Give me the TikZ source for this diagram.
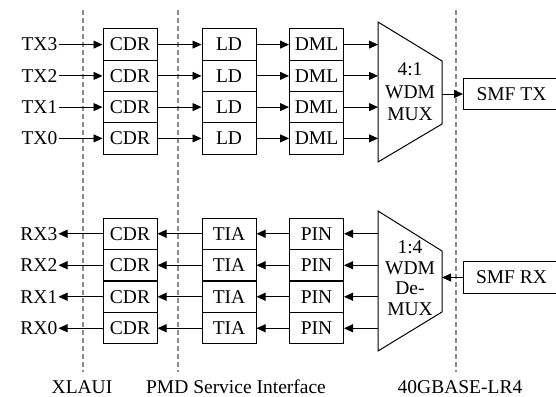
\documentclass[tikz,border=0pt]{standalone}
\usepackage{fontspec}
\setmainfont{Liberation Serif}
\usepackage{tikz}
\usetikzlibrary{arrows.meta}
\definecolor{dash_gray}{HTML}{8C8C8C}

\begin{document}
\begin{tikzpicture}[x=1pt,y=-1pt,
        blk/.style={draw, line width=1pt, minimum width=54pt, minimum height=31.25pt, inner sep=0pt, font=\fontsize{19.5}{22}\selectfont},
        lbl/.style={inner sep=1pt, font=\fontsize{19.5}{22}\selectfont},
        sig/.style={line width=0.9pt, -{Triangle[length=9pt,width=8pt]}},
        bound/.style={dash_gray, line width=1.5pt, dash pattern=on 5pt off 3pt}]
        \useasboundingbox (0,0) rectangle (556,396);
        % Interfaces
        \draw[bound] (83,10) -- (83,372);
        \draw[bound] (178,10) -- (178,372);
        \draw[bound] (456,10) -- (456,372);
        \node[lbl, anchor=base] (xlaui) at (82,393) {XLAUI};
        \node[lbl, anchor=base] (pmd) at (236,393) {PMD Service Interface};
        \node[lbl, anchor=base] (lrfour) at (460,393) {40GBASE-LR4};
        % Emission
        \foreach \i/\y in {3/44.6,2/75.9,1/107.1,0/138.4} {
            \node[lbl, anchor=east] (tx\i) at (58.5,\y) {TX\i};
            \node[blk] (cdrt\i) at (130,\y) {CDR};
            \node[blk] (ld\i) at (229,\y) {LD};
            \node[blk] (dml\i) at (316.5,\y) {DML};
            \coordinate (muxin\i) at (378,\y);
            \draw[sig] (tx\i) -- (cdrt\i);
            \draw[sig] (cdrt\i) -- (ld\i);
            \draw[sig] (ld\i) -- (dml\i);
            \draw[sig] (dml\i) -- (muxin\i);
        }
        % Multiplexeur
        \draw[line width=1pt] (378,22) -- (442,61) -- (442,124) -- (378,162) -- cycle;
        \node[lbl, align=center, font=\fontsize{19.5}{22.5}\selectfont] (mux) at (410,92) {4:1\\WDM\\MUX};
        \coordinate (muxout) at (442,94);
        \node[blk, anchor=west, minimum width=96pt] (smftx) at (463,94) {SMF TX};
        \draw[sig] (muxout) -- (smftx);
        % Reception
        \foreach \i/\y in {3/233.75,2/265.25,1/296.75,0/328.25} {
            \node[lbl, anchor=east] (rx\i) at (58.5,\y) {RX\i};
            \node[blk] (cdrr\i) at (130,\y) {CDR};
            \node[blk] (tia\i) at (229,\y) {TIA};
            \node[blk] (pin\i) at (316.5,\y) {PIN};
            \coordinate (demuxout\i) at (378,\y);
            \draw[sig] (cdrr\i) -- (rx\i);
            \draw[sig] (tia\i) -- (cdrr\i);
            \draw[sig] (pin\i) -- (tia\i);
            \draw[sig] (demuxout\i) -- (pin\i);
        }
        % Demultiplexeur
        \draw[line width=1pt] (378,211) -- (442,251) -- (442,312) -- (378,351) -- cycle;
        \node[lbl, align=center, font=\fontsize{19.5}{20.5}\selectfont] (demux) at (410,278) {1:4\\WDM\\De-\\MUX};
        \coordinate (demuxin) at (442,277.5);
        \node[blk, anchor=west, minimum width=96pt] (smfrx) at (463,277.5) {SMF RX};
        \draw[sig] (smfrx) -- (demuxin);
\end{tikzpicture}
\end{document}
